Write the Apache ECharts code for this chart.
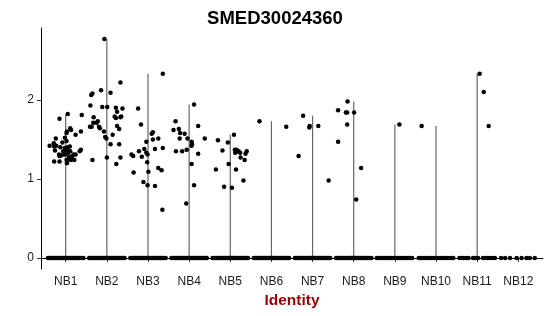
<!DOCTYPE html>
<html>
<head>
<meta charset="utf-8">
<script src="https://cdn.jsdelivr.net/npm/echarts@6/dist/echarts.min.js"></script>
<style>
html,body{margin:0;padding:0;background:#fff;}
#chart{width:550px;height:316px;}
</style>
</head>
<body>
<div id="chart"></div>
<script>
// ---- data ----
const categories = ['NB1','NB2','NB3','NB4','NB5','NB6','NB7','NB8','NB9','NB10','NB11','NB12'];
const yTicks = [0, 1, 2];

// non-zero expression values and their horizontal jitter (category units)
const nb1Vals = [1.51,1.45,1.41,1.40,1.42,1.36,1.31,1.31,1.35,1.41,1.35,1.29,1.24,1.28,1.25,1.31,1.35,1.37,1.40,1.46,1.48,1.52,1.58,1.60,1.76,1.82,1.62,1.64,1.56,1.60,1.81,1.31,1.24,1.37,1.35,1.22,1.22,1.20,1.24,1.29,1.39,1.33,1.30,1.42];
const nb1Jit  = [-0.24,-0.29,-0.28,-0.13,-0.39,-0.26,-0.16,-0.02,0.05,0.10,0.11,-0.15,0.02,0.08,0.15,0.19,-0.06,0.00,0.05,-0.08,0.02,-0.02,0.02,0.03,-0.15,0.05,0.13,0.11,0.24,0.37,0.39,0.24,0.21,0.37,0.34,-0.28,-0.15,0.03,0.11,0.16,-0.02,0.06,-0.10,-0.23];
const nb2Vals = [2.77,2.06,2.08,2.12,2.09,2.22,1.93,1.91,1.91,1.90,1.85,1.89,1.78,1.73,1.71,1.71,1.66,1.66,1.66,1.64,1.60,1.53,1.51,1.56,1.77,1.79,1.78,1.67,1.63,1.44,1.44,1.19,1.27,1.27,1.24,1.79];
const nb2Jit  = [-0.06,-0.38,-0.35,-0.14,0.09,0.33,-0.40,-0.11,0.01,0.22,0.25,0.38,-0.32,-0.22,-0.25,-0.33,-0.41,-0.37,-0.19,-0.17,-0.07,-0.04,-0.01,0.14,0.22,0.35,0.33,0.25,0.30,0.09,0.30,0.23,0.33,0.00,-0.35,0.19];
const nb3Vals = [2.33,1.89,1.69,1.31,1.29,1.35,1.38,1.47,1.31,1.33,1.57,1.59,1.51,1.50,1.39,1.38,1.28,1.21,1.09,1.14,1.11,1.08,0.96,0.92,0.91,0.61];
const nb3Jit  = [0.36,-0.24,-0.17,-0.40,-0.36,-0.22,-0.09,-0.04,-0.01,-0.04,0.09,0.12,0.25,0.12,0.36,0.17,-0.15,-0.02,0.01,0.25,0.33,-0.35,-0.11,-0.01,0.17,0.35];
const nb4Vals = [1.94,1.73,1.62,1.63,1.58,1.57,1.51,1.51,1.47,1.44,1.42,1.67,1.51,1.35,1.35,1.37,1.32,1.19,0.92,0.69];
const nb4Jit  = [0.12,-0.33,-0.38,-0.25,-0.22,-0.11,-0.23,-0.04,0.06,0.07,0.06,0.22,0.38,-0.32,-0.17,-0.06,0.22,0.06,0.12,-0.07];
const nb5Vals = [1.56,1.49,1.36,1.46,1.37,1.37,1.35,1.33,1.35,1.32,1.27,1.24,1.19,1.12,1.12,0.90,0.89,0.98,1.35,1.33];
const nb5Jit  = [0.09,-0.30,-0.19,-0.06,0.11,0.15,0.20,0.24,0.40,0.37,0.25,0.35,-0.04,-0.35,0.14,-0.15,0.04,0.32,0.17,0.12];
const nb6Vals = [1.73,1.66];
const nb6Jit  = [-0.29,0.36];
const nb7Vals = [1.80,1.29,1.65,1.67,1.67,0.98];
const nb7Jit  = [-0.23,-0.34,-0.08,-0.07,0.14,0.39];
const nb8Vals = [1.98,1.87,1.84,1.84,1.84,1.69,1.47,1.14,0.74];
const nb8Jit  = [-0.15,-0.38,-0.19,-0.16,0.01,-0.16,-0.38,0.18,0.06];
const nb9Vals = [1.69];
const nb9Jit  = [0.11];
const nb10Vals = [1.67];
const nb10Jit  = [-0.35];
const nb11Vals = [2.33,2.10,1.67];
const nb11Jit  = [0.06,0.16,0.28];
const nb12Vals = [];
const nb12Jit  = [];

// jitter of the zero-valued cells per cluster
const zeroDense = [-0.43,-0.40,-0.37,-0.33,-0.30,-0.27,-0.24,-0.21,-0.17,-0.14,-0.11,-0.08,-0.05,-0.02,0.02,0.05,0.08,0.11,0.14,0.17,0.21,0.24,0.27,0.30,0.33,0.37,0.40,0.43];
const zeroNB9  = [-0.44,-0.40,-0.35,-0.31,-0.26,-0.22,-0.17,-0.12,-0.08,-0.03,0.02,0.07,0.11,0.16,0.20,0.25,0.30,0.34,0.38,0.42];
const zeroNB10 = [-0.42,-0.37,-0.32,-0.27,-0.21,-0.16,-0.10,-0.05,0.01,0.06,0.12,0.17,0.23,0.28,0.33,0.38,0.42];
const zeroNB11 = [-0.43,-0.38,-0.33,-0.27,-0.21,-0.10,-0.05,0.02,0.14,0.19,0.25,0.31,0.37,0.43];
const zeroNB12 = [-0.42,-0.32,-0.20,-0.04,0.08,0.20,0.28,0.40];

const groupVals = [nb1Vals,nb2Vals,nb3Vals,nb4Vals,nb5Vals,nb6Vals,nb7Vals,nb8Vals,nb9Vals,nb10Vals,nb11Vals,nb12Vals];
const groupJit  = [nb1Jit,nb2Jit,nb3Jit,nb4Jit,nb5Jit,nb6Jit,nb7Jit,nb8Jit,nb9Jit,nb10Jit,nb11Jit,nb12Jit];
const groupZero = [zeroDense,zeroDense,zeroDense,zeroDense,zeroDense,zeroDense,zeroDense,zeroDense,zeroNB9,zeroNB10,zeroNB11,zeroNB12];

// ---- build series data ----
const violinData = [];
const pointData = [];
categories.forEach((c, i) => {
  const pos = i + 1;
  const vals = groupVals[i];
  if (vals.length) violinData.push([pos, Math.max.apply(null, vals)]);
  groupZero[i].forEach(j => pointData.push([pos + j, 0]));
  vals.forEach((v, k) => pointData.push([pos + groupJit[i][k], v]));
});

const allMax = Math.max.apply(null, groupVals.flat());
const pad = allMax * 0.05;
const font = 'Liberation Sans, Arial, Helvetica, sans-serif';
const catPos = categories.map((c, i) => i + 1);

const chart = echarts.init(document.getElementById('chart'), null, {renderer: 'canvas'});
chart.setOption({
  animation: false,
  backgroundColor: '#ffffff',
  title: {
    text: 'SMED30024360',
    left: 'center',
    top: 4,
    textStyle: {fontFamily: font, fontSize: 18.5, fontWeight: 'bold', color: '#000'}
  },
  grid: {left: 41, right: 7, top: 28, bottom: 47, containLabel: false},
  xAxis: {
    type: 'value',
    min: 0.4,
    max: 12.6,
    name: 'Identity',
    nameLocation: 'middle',
    nameGap: 21,
    nameTextStyle: {fontFamily: font, fontSize: 15.5, fontWeight: 'bold', color: '#990000'},
    axisLine: {show: true, lineStyle: {color: '#000', width: 1}},
    axisTick: {show: true, length: 4, lineStyle: {color: '#333'}, customValues: catPos},
    axisLabel: {
      show: true, margin: 7, fontFamily: font, fontSize: 12, color: '#1a1a1a',
      customValues: catPos,
      formatter: v => categories[Math.round(v) - 1] || ''
    },
    splitLine: {show: false}
  },
  yAxis: {
    type: 'value',
    min: -pad,
    max: allMax + pad,
    axisLine: {show: true, lineStyle: {color: '#000', width: 1}},
    axisTick: {show: true, length: 4, lineStyle: {color: '#333'}, customValues: yTicks},
    axisLabel: {show: true, margin: 7, fontFamily: font, fontSize: 12, color: '#1a1a1a', customValues: yTicks},
    splitLine: {show: false}
  },
  series: [
    {
      type: 'custom',
      data: violinData,
      z: 1,
      renderItem: (params, api) => {
        const x = api.value(0);
        const top = api.coord([x, api.value(1)]);
        const bot = api.coord([x, 0]);
        return {
          type: 'line',
          shape: {x1: top[0], y1: top[1], x2: bot[0], y2: bot[1]},
          style: {stroke: '#666666', lineWidth: 1.2}
        };
      }
    },
    {
      type: 'scatter',
      data: pointData,
      z: 2,
      symbol: 'circle',
      symbolSize: 4.5,
      itemStyle: {color: '#000', opacity: 1}
    }
  ]
});
</script>
</body>
</html>
